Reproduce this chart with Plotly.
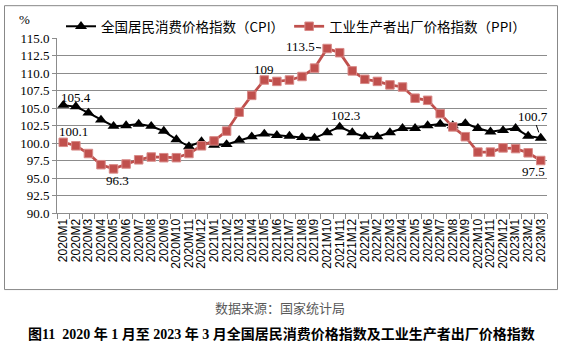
import plotly.graph_objects as go

months = (
    [f"2020M{i}" for i in range(1, 13)]
    + [f"2021M{i}" for i in range(1, 13)]
    + [f"2022M{i}" for i in range(1, 13)]
    + [f"2023M{i}" for i in range(1, 4)]
)

cpi = [105.4, 105.2, 104.3, 103.3, 102.4, 102.5, 102.7, 102.4, 101.7, 100.5, 99.5, 100.2,
       99.7, 99.8, 100.4, 100.9, 101.3, 101.1, 101.0, 100.8, 100.7, 101.5, 102.3, 101.5,
       100.9, 100.9, 101.5, 102.1, 102.1, 102.5, 102.7, 102.5, 102.8, 102.1, 101.6, 101.8,
       102.1, 101.0, 100.7]

ppi = [100.1, 99.6, 98.5, 96.9, 96.3, 97.0, 97.6, 98.0, 97.9, 97.9, 98.5, 99.6,
       100.3, 101.7, 104.4, 106.8, 109.0, 108.8, 109.0, 109.5, 110.7, 113.5, 112.9, 110.3,
       109.1, 108.8, 108.3, 108.0, 106.4, 106.1, 104.2, 102.3, 100.9, 98.7, 98.7, 99.3,
       99.2, 98.6, 97.5]

cpi_name = "全国居民消费价格指数（CPI）"
ppi_name = "工业生产者出厂价格指数（PPI）"
source_text = "数据来源：国家统计局"
caption_text = "图11  2020 年 1 月至 2023 年 3 月全国居民消费价格指数及工业生产者出厂价格指数"

y_ticks = [90.0, 92.5, 95.0, 97.5, 100.0, 102.5, 105.0, 107.5, 110.0, 112.5, 115.0]

RED = "#C0504D"
GRID = "#8C8C8C"
SERIF = "Liberation Serif, Times New Roman, Noto Sans CJK SC, serif"
CJK = "Noto Sans CJK SC, sans-serif"

fig = go.Figure()
fig.add_trace(go.Scatter(
    x=months, y=cpi, name=cpi_name, mode="lines+markers",
    line=dict(color="black", width=2),
    marker=dict(symbol="triangle-up", size=10.5, color="black"),
))
fig.add_trace(go.Scatter(
    x=months, y=ppi, name=ppi_name, mode="lines+markers",
    line=dict(color=RED, width=2.75),
    marker=dict(symbol="square", size=8.5, color=RED,
                line=dict(color="#D88A88", width=1)),
))

W, H = 564, 348
L, R, T, B = 57, 17, 37, 135
pw, ph = W - L - R, H - T - B


def px_x(px):
    return (px - L) / pw


def px_y(py):
    return (H - B - py) / ph


ann = []
# plain data labels: (series, index, xshift, yshift)
plain = [("cpi", 0, 13, 7.5), ("ppi", 0, 10.5, 10.5), ("ppi", 4, 4, -11.5),
         ("ppi", 16, 0, 10.5), ("cpi", 22, 5.5, 11), ("ppi", 38, -7.5, -11)]
for s, i, xs, ys in plain:
    vals = cpi if s == "cpi" else ppi
    v = vals[i]
    txt = f"{v:g}"
    ann.append(dict(x=months[i], y=v, xref="x", yref="y", text=txt, showarrow=False,
                    xanchor="center", yanchor="middle",
                    xshift=xs, yshift=ys, font=dict(family=SERIF, size=13, color="black")))
# labels with leader lines
lead = [("ppi", 21, -27, -2.5, 6), ("cpi", 38, -7.5, -22, 6)]
for s, i, ax, ay, so in lead:
    vals = cpi if s == "cpi" else ppi
    v = vals[i]
    ann.append(dict(x=months[i], y=v, xref="x", yref="y", text=f"{v:g}", showarrow=True,
                    arrowhead=0, arrowwidth=1, arrowcolor="black", ax=ax, ay=ay,
                    standoff=so, font=dict(family=SERIF, size=13, color="black")))

ann.append(dict(x=px_x(24), y=px_y(18), xref="paper", yref="paper", text="%",
                xanchor="center", yanchor="middle",
                showarrow=False, font=dict(family=SERIF, size=13, color="black")))
ann.append(dict(x=px_x(279.5), y=px_y(308), xref="paper", yref="paper", text=source_text,
                xanchor="center", yanchor="middle",
                showarrow=False, font=dict(family=CJK, size=13, color="#595959")))
ann.append(dict(x=px_x(281.7), y=px_y(335), xref="paper", yref="paper",
                text="<b>" + caption_text + "</b>",
                xanchor="center", yanchor="middle",
                showarrow=False, font=dict(family=SERIF, size=14, color="black")))

fig.update_layout(
    width=W, height=H,
    margin=dict(l=L, r=R, t=T, b=B, pad=0),
    paper_bgcolor="white", plot_bgcolor="white",
    showlegend=True,
    legend=dict(orientation="h", x=px_x(61), y=px_y(26.5), xanchor="left", yanchor="middle",
                font=dict(family=CJK, size=13.5, color="black"), bgcolor="rgba(0,0,0,0)",
                itemsizing="trace", tracegroupgap=0),
    annotations=ann,
    shapes=[dict(type="rect", xref="paper", yref="paper",
                 x0=px_x(4.5), x1=px_x(557.5), y0=px_y(290), y1=px_y(4.5),
                 line=dict(color="#888888", width=1), fillcolor="rgba(0,0,0,0)", layer="below")],
)

fig.update_xaxes(
    type="category", range=[-0.5, len(months) - 0.5],
    tickmode="array", tickvals=months, ticktext=months,
    tickangle=-90, tickson="boundaries", ticks="outside", ticklen=5, tickcolor=GRID,
    showline=True, linecolor=GRID, linewidth=1, showgrid=False,
    tickfont=dict(family="Liberation Sans, Arial, sans-serif", size=12, color="black"),
)
fig.update_yaxes(
    range=[90, 115], tickmode="array", tickvals=y_ticks,
    ticktext=[f"{v:.1f}" for v in y_ticks],
    ticks="outside", ticklen=4, tickcolor=GRID,
    showline=True, linecolor=GRID, linewidth=1,
    showgrid=True, gridcolor=GRID, gridwidth=1, zeroline=False,
    tickfont=dict(family=SERIF, size=13, color="black"),
)

fig.write_html("out.html")
